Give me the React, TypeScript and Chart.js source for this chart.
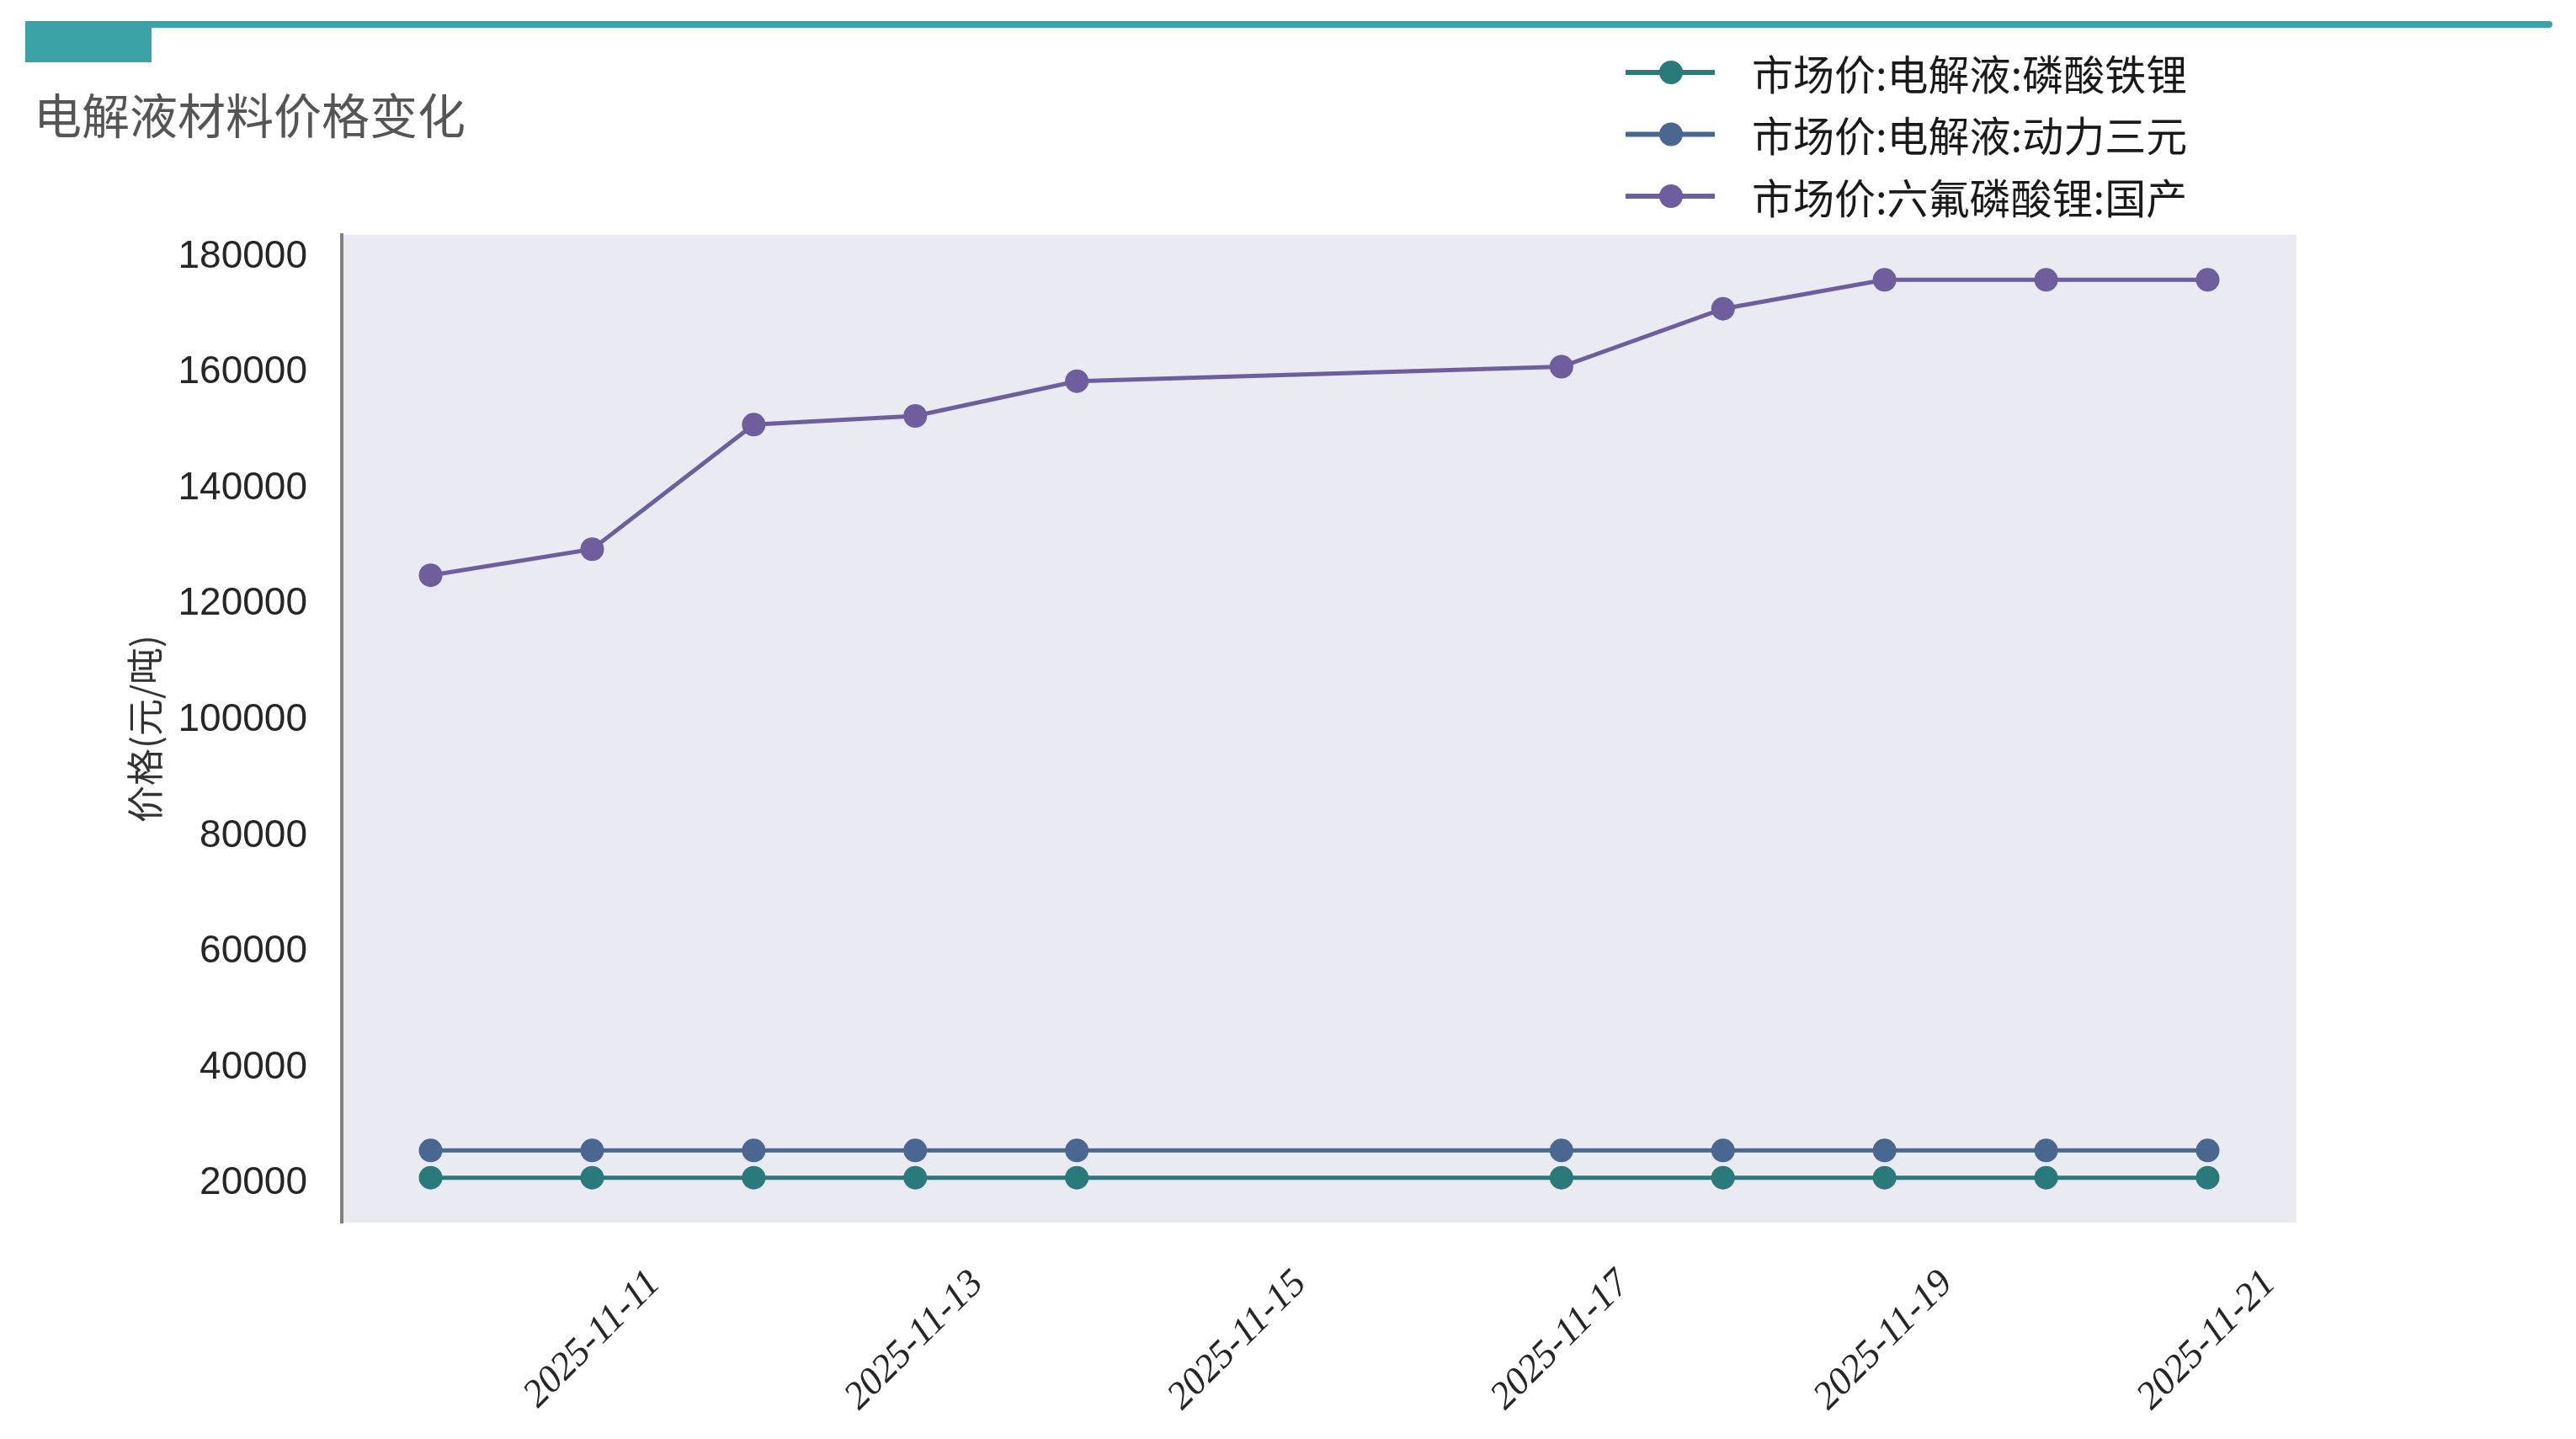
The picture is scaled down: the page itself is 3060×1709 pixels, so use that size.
import { useEffect, useRef } from "react";
import { Chart, registerables } from "chart.js";

Chart.register(...registerables);

// trading days shown in the chart
const dates = [
  "2025-11-10",
  "2025-11-11",
  "2025-11-12",
  "2025-11-13",
  "2025-11-14",
  "2025-11-17",
  "2025-11-18",
  "2025-11-19",
  "2025-11-20",
  "2025-11-21",
];

// 市场价:电解液:磷酸铁锂
const lfpElectrolyte = [20000, 20000, 20000, 20000, 20000, 20000, 20000, 20000, 20000, 20000];
// 市场价:电解液:动力三元
const ncmElectrolyte = [24700, 24700, 24700, 24700, 24700, 24700, 24700, 24700, 24700, 24700];
// 市场价:六氟磷酸锂:国产
const lipf6 = [124000, 128500, 150000, 151500, 157500, 160000, 170000, 175000, 175000, 175000];

const seriesNames = ["市场价:电解液:磷酸铁锂", "市场价:电解液:动力三元", "市场价:六氟磷酸锂:国产"];
const seriesColors = ["#2A7A7B", "#4A6791", "#6E5E9E"];

const xTickLabels = ["2025-11-11", "2025-11-13", "2025-11-15", "2025-11-17", "2025-11-19", "2025-11-21"];
const yTicks = [20000, 40000, 60000, 80000, 100000, 120000, 140000, 160000, 180000];

const dayNum = (s: string) => Date.parse(s + "T00:00:00Z") / 86400000;
const dayLabel = (v: number) => new Date(Math.round(v) * 86400000).toISOString().slice(0, 10);

const FONT_CJK = '"Noto Sans CJK SC", "Noto Sans", sans-serif';

// fills the plot area with the grey-blue background
const plotBackground = {
  id: "plotBackground",
  beforeDraw(chart: any) {
    const { ctx, chartArea } = chart;
    if (!chartArea) return;
    ctx.save();
    ctx.fillStyle = "#EAEAF2";
    ctx.fillRect(chartArea.left, chartArea.top, chartArea.right - chartArea.left, chartArea.bottom - chartArea.top);
    ctx.restore();
  },
};

// vertical legend above the plot, right of centre
const stackedLegend = {
  id: "stackedLegend",
  afterDraw(chart: any) {
    const ctx = chart.ctx;
    chart.data.datasets.forEach((ds: any, i: number) => {
      const y = 86 + i * 73.5;
      ctx.save();
      ctx.strokeStyle = ds.borderColor;
      ctx.lineWidth = 6;
      ctx.beginPath();
      ctx.moveTo(1931, y);
      ctx.lineTo(2037, y);
      ctx.stroke();
      ctx.fillStyle = ds.borderColor;
      ctx.beginPath();
      ctx.arc(1985, y, 14, 0, Math.PI * 2);
      ctx.fill();
      ctx.fillStyle = "#1a1a1a";
      ctx.font = `49px ${FONT_CJK}`;
      ctx.textBaseline = "middle";
      ctx.textAlign = "left";
      ctx.fillText(ds.label, 2081, y + 2);
      ctx.restore();
    });
  },
};

const ElectrolytePrices = () => {
  const chartRef = useRef<HTMLCanvasElement>(null);
  const chartInstance = useRef<Chart | null>(null);

  useEffect(() => {
    if (!chartRef.current) return;
    if (chartInstance.current) chartInstance.current.destroy();

    const xs = dates.map(dayNum);
    const xSpan = xs[xs.length - 1] - xs[0];
    const allY = [...lfpElectrolyte, ...ncmElectrolyte, ...lipf6];
    const yLo = Math.min(...allY);
    const yHi = Math.max(...allY);
    const ySpan = yHi - yLo;

    const series = [lfpElectrolyte, ncmElectrolyte, lipf6];

    chartInstance.current = new Chart(chartRef.current, {
      type: "line",
      data: {
        datasets: series.map((vals, i) => ({
          label: seriesNames[i],
          data: vals.map((v, j) => ({ x: xs[j], y: v })),
          borderColor: seriesColors[i],
          backgroundColor: seriesColors[i],
          borderWidth: 5,
          pointRadius: 14,
          pointBorderWidth: 0,
          pointBackgroundColor: seriesColors[i],
          tension: 0,
          fill: false,
        })),
      },
      options: {
        animation: false,
        responsive: true,
        maintainAspectRatio: false,
        layout: {
          padding: { top: 279, right: 332, bottom: 0, left: 0 },
        },
        plugins: {
          legend: { display: false },
          tooltip: { enabled: false },
        },
        scales: {
          x: {
            type: "linear",
            min: xs[0] - xSpan * 0.05,
            max: xs[xs.length - 1] + xSpan * 0.05,
            afterBuildTicks: (scale: any) => {
              scale.ticks = xTickLabels.map((s) => ({ value: dayNum(s) }));
            },
            afterFit: (scale: any) => {
              scale.height = 257;
            },
            grid: { display: false, drawTicks: false },
            border: { display: false },
            ticks: {
              autoSkip: false,
              minRotation: 45,
              maxRotation: 45,
              padding: 46,
              labelOffset: 74,
              color: "#262626",
              font: { family: '"Liberation Serif", serif', size: 46, style: "italic" },
              callback: (v: any) => dayLabel(Number(v)),
            },
          },
          y: {
            min: yLo - ySpan * 0.05,
            max: yHi + ySpan * 0.05,
            afterBuildTicks: (scale: any) => {
              scale.ticks = yTicks.map((v) => ({ value: v }));
            },
            afterFit: (scale: any) => {
              scale.width = 406;
            },
            grid: { display: false, drawTicks: false },
            border: { display: true, color: "#808080", width: 4 },
            title: {
              display: true,
              text: "价格(元/吨)",
              color: "#333333",
              font: { family: FONT_CJK, size: 44 },
              padding: { top: 146, bottom: 0 },
            },
            ticks: {
              padding: 41,
              labelOffset: 7,
              color: "#262626",
              font: { family: '"Liberation Sans", Arial, sans-serif', size: 46 },
              callback: (v: any) => String(v),
            },
          },
        },
      },
      plugins: [plotBackground, stackedLegend],
    });

    return () => {
      if (chartInstance.current) {
        chartInstance.current.destroy();
        chartInstance.current = null;
      }
    };
  }, []);

  return (
    <div
      style={{
        position: "absolute",
        left: 0,
        top: 0,
        width: 3060,
        height: 1709,
        background: "#ffffff",
        overflow: "hidden",
      }}
    >
      <div style={{ position: "absolute", left: 30, top: 25, width: 3002, height: 8, background: "#3BA3A5", borderRadius: 4 }} />
      <div style={{ position: "absolute", left: 30, top: 25, width: 150, height: 49, background: "#3BA3A5" }} />
      <div
        style={{
          position: "absolute",
          left: 40,
          top: 102,
          fontFamily: FONT_CJK,
          fontSize: 57,
          lineHeight: "64px",
          color: "#555555",
          whiteSpace: "nowrap",
        }}
      >
        电解液材料价格变化
      </div>
      <div style={{ position: "absolute", left: 0, top: 0, width: 3060, height: 1709 }}>
        <canvas ref={chartRef} role="img" aria-label="电解液材料价格变化折线图"></canvas>
      </div>
    </div>
  );
};

export default function App() {
  return <ElectrolytePrices />;
}
